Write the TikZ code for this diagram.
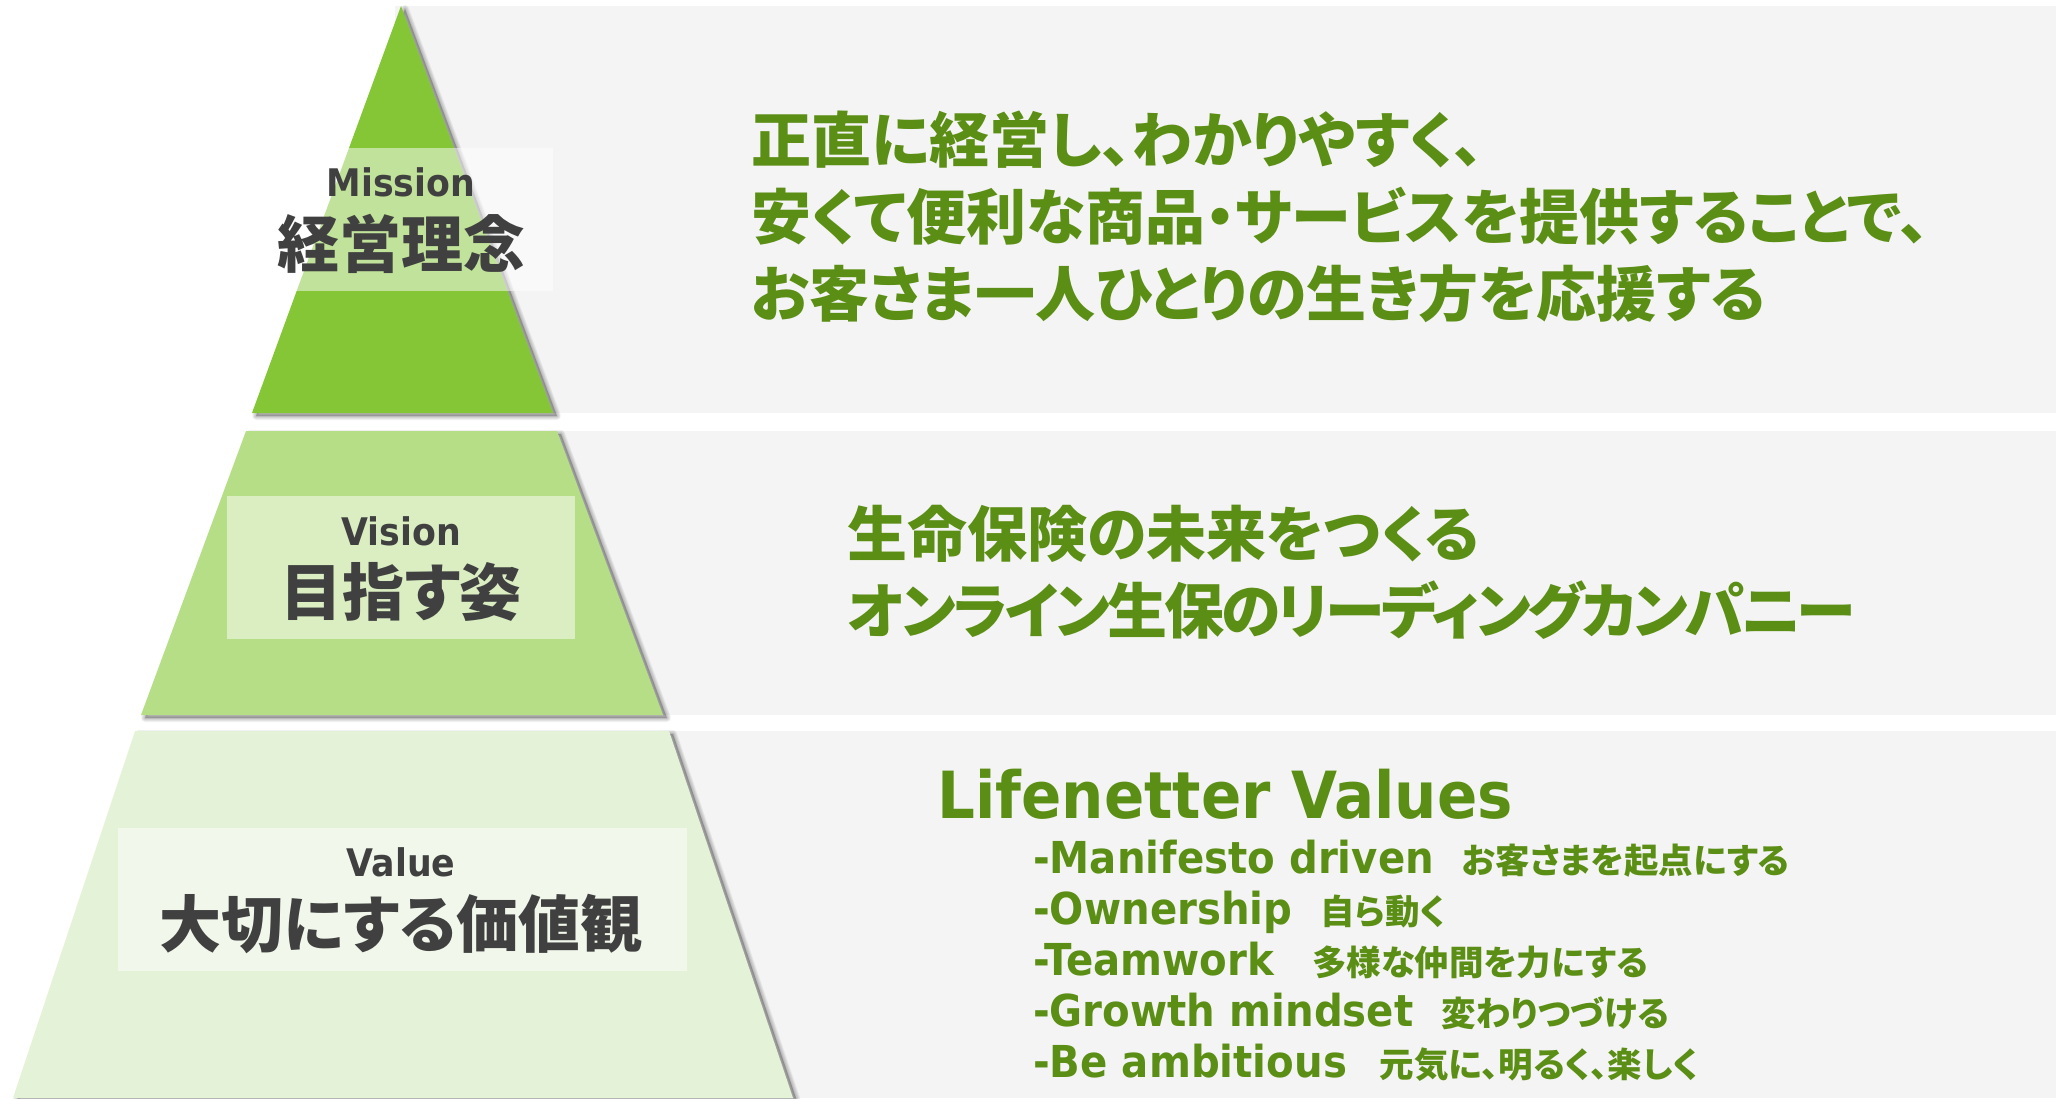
\documentclass[tikz,border=0pt]{standalone}
\usepackage{fontspec}
\newfontfamily\jpf{Noto Sans CJK JP}[RawFeature=+palt]
\newfontfamily\latf{DejaVu Sans}[FakeStretch=0.915]
\definecolor{mgreen}{HTML}{84C636}
\definecolor{vgreen}{HTML}{B5DE86}
\definecolor{lgreen}{HTML}{E4F2D7}
\definecolor{panelc}{HTML}{F4F4F4}
\definecolor{tgreen}{HTML}{5B8E14}
\definecolor{lgray}{HTML}{404040}
\tikzset{
  panel/.style={fill=panelc, draw=none},
  labelbox/.style={fill=white, fill opacity=0.5, draw=none, inner sep=0pt},
  jpmain/.style={font=\jpf\bfseries\fontsize{60}{70}\selectfont, text=tgreen, anchor=base west, inner sep=0pt},
  labjp/.style={font=\jpf\bfseries\fontsize{62}{70}\selectfont, text=lgray, anchor=base, inner sep=0pt},
  lablat/.style={font=\latf\bfseries\fontsize{38}{44}\selectfont, text=lgray, anchor=base, inner sep=0pt},
  valtitle/.style={font=\latf\bfseries\fontsize{65}{72}\selectfont, text=tgreen, anchor=base west, inner sep=0pt},
  valitem/.style={font=\latf\bfseries\fontsize{44}{50}\selectfont, text=tgreen, anchor=base west, inner sep=0pt},
}
\newcommand\jpsmall{\jpf\bfseries\fontsize{34.5}{40}\selectfont}
\newcommand\itemgap{\hspace{28pt}}
\begin{document}
\begin{tikzpicture}[x=1pt,y=-1pt]
\useasboundingbox (0,0) rectangle (2056,1098);
% panels
\fill[panel] (395,6) rectangle (2056,413);
\fill[panel] (400,431) rectangle (2056,715);
\fill[panel] (400,731) rectangle (2056,1098);
% shadows
\foreach \k in {1,...,5}{
  \filldraw[black, opacity=0.05, line width=\k*1.6pt, line join=round, shift={(4,3)}]
    (401,6) -- (553,413) -- (252,413) -- cycle;
  \filldraw[black, opacity=0.05, line width=\k*1.6pt, line join=round, shift={(4,3)}]
    (246,431) -- (557,431) -- (663,715) -- (141,715) -- cycle;
  \filldraw[black, opacity=0.05, line width=\k*1.6pt, line join=round, shift={(4,3)}]
    (135,731) -- (669,731) -- (793,1098) -- (13,1098) -- cycle;
}
% pyramid tiers
\fill[mgreen] (401,6) -- (553,413) -- (252,413) -- cycle;
\fill[vgreen] (246,431) -- (557,431) -- (663,715) -- (141,715) -- cycle;
\fill[lgreen] (135,731) -- (669,731) -- (793,1098) -- (13,1098) -- cycle;
% label boxes
\node[labelbox, minimum width=304pt, minimum height=143pt] (mbox) at (401,219.5) {};
\node[labelbox, minimum width=348pt, minimum height=143pt] (vbox) at (401,567.5) {};
\node[labelbox, minimum width=569pt, minimum height=143pt] (valbox) at (402.5,899.5) {};
% labels
\node[lablat] (mlat) at (401,196) {Mission};
\node[labjp] (mjp) at (401,267) {経営理念};
\node[lablat] (vlat) at (401,545) {Vision};
\node[labjp] (vjp) at (401,615) {目指す姿};
\node[lablat] (valat) at (401,876) {Value};
\node[labjp] (vajp) at (401,947) {大切にする価値観};
% mission text
\node[jpmain] (m1) at (751,162) {正直に経営し、わかりやすく、};
\node[jpmain] (m2) at (751,239) {安くて便利な商品・サービスを提供することで、};
\node[jpmain] (m3) at (751,316) {お客さま一人ひとりの生き方を応援する};
% vision text
\node[jpmain] (v1) at (847,556) {生命保険の未来をつくる};
\node[jpmain] (v2) at (847,633) {\addfontfeature{LetterSpace=-5}オンライン生保のリーディングカンパニー};
% values text
\node[valtitle] (vt) at (937,818) {Lifenetter Values};
\node[valitem] (i1) at (1033,873) {-Manifesto driven\itemgap{\jpsmall お客さまを起点にする}};
\node[valitem] (i2) at (1033,924) {-Ownership\itemgap{\jpsmall 自ら動く}};
\node[valitem] (i3) at (1033,975) {-Teamwork\hspace{38pt}{\jpsmall 多様な仲間を力にする}};
\node[valitem] (i4) at (1033,1026) {-Growth mindset\itemgap{\jpsmall 変わりつづける}};
\node[valitem] (i5) at (1033,1077) {-Be ambitious\hspace{33pt}{\jpsmall 元気に、明るく、楽しく}};
\end{tikzpicture}
\end{document}
